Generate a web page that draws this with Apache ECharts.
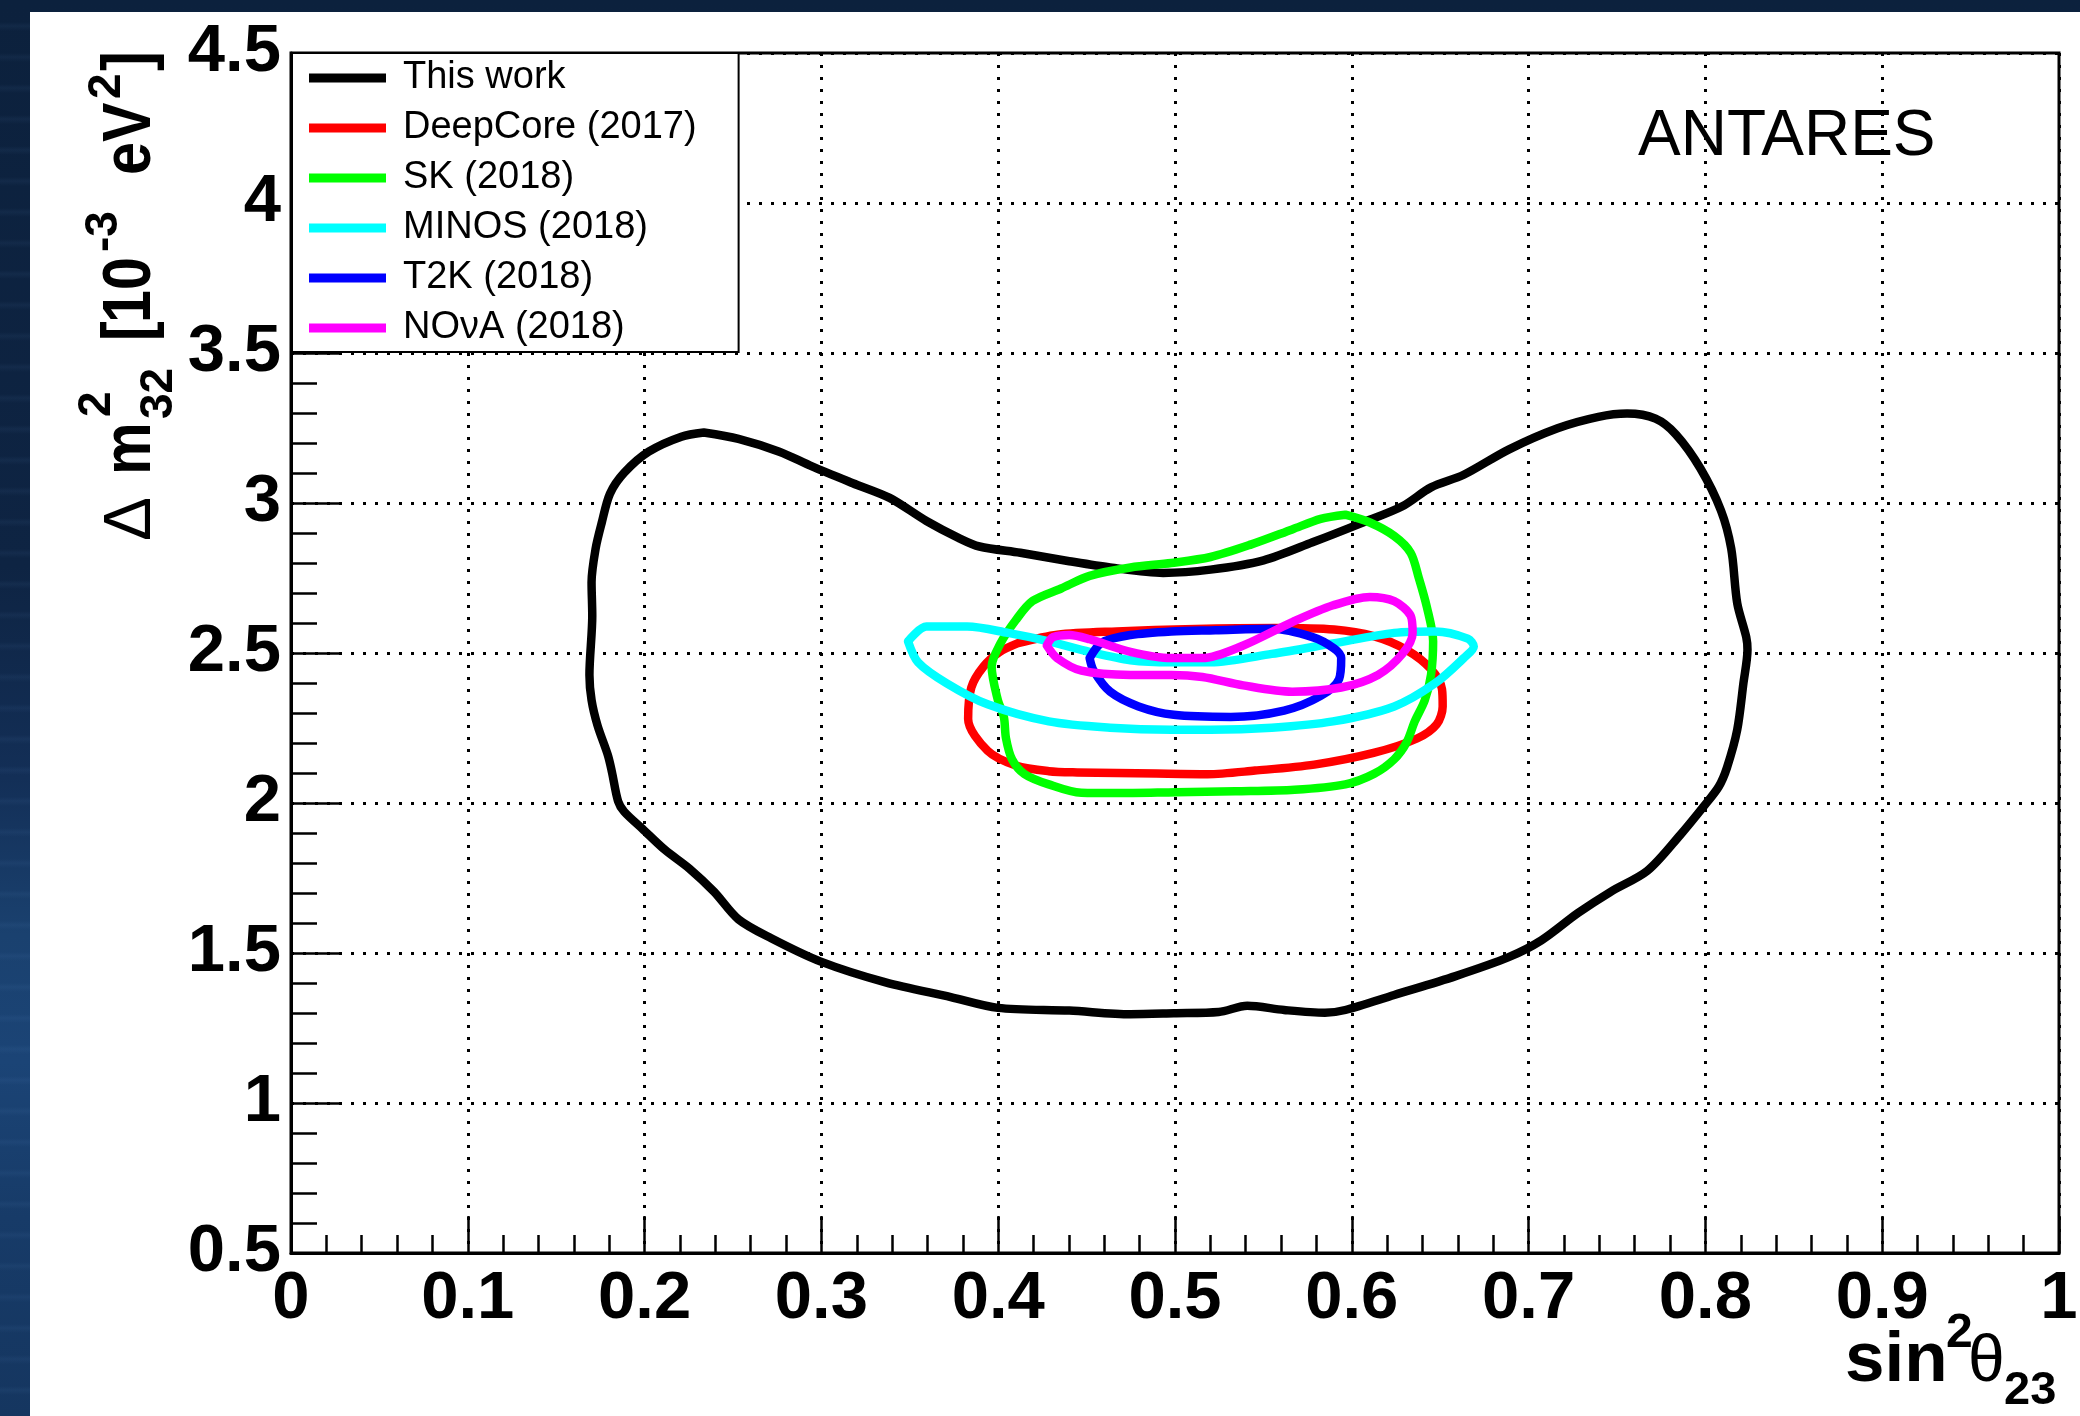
<!DOCTYPE html>
<html>
<head>
<meta charset="utf-8">
<script src="https://cdn.jsdelivr.net/npm/echarts@6/dist/echarts.min.js"></script>
<style>
  html, body { margin: 0; padding: 0; width: 2080px; height: 1416px; overflow: hidden; }
  body {
    background:
      repeating-linear-gradient(to bottom, rgba(255,255,255,0.00) 0px, rgba(255,255,255,0.00) 22px, rgba(120,170,230,0.06) 26px, rgba(255,255,255,0.00) 31px),
      linear-gradient(to bottom, #0c213d 0%, #0e2443 40%, #132f57 55%, #1a416f 66%, #1b4476 75%, #173b68 86%, #153660 100%);
  }
  #panel { position: absolute; left: 30px; top: 12px; right: 0; bottom: 0; background: #ffffff; }
  #chart { position: absolute; left: 0; top: 0; width: 2080px; height: 1416px; }
</style>
</head>
<body>
<div id="panel"></div>
<div id="chart"></div>
<script>
// 90% CL contours in the (sin^2 theta23, Delta m^2_32) plane
const seriesNames = ['This work', 'DeepCore (2017)', 'SK (2018)', 'MINOS (2018)', 'T2K (2018)', 'NO\u03bdA (2018)'];
const seriesColors = ['#000000', '#ff0000', '#00ff00', '#00ffff', '#0000ff', '#ff00ff'];

const xTickLabels = ['0', '0.1', '0.2', '0.3', '0.4', '0.5', '0.6', '0.7', '0.8', '0.9', '1'];
const yTickLabels = ['0.5', '1', '1.5', '2', '2.5', '3', '3.5', '4', '4.5'];

const thisWork = [
  [0.2335,3.235],[0.2531,3.214],[0.2762,3.171],[0.2947,3.122],[0.3178,3.066],[0.3386,3.017],
  [0.3594,2.940],[0.3778,2.883],[0.3894,2.855],[0.4125,2.834],[0.4402,2.806],[0.4633,2.785],
  [0.4933,2.767],[0.5201,2.778],[0.5501,2.809],[0.5778,2.869],[0.6055,2.933],[0.6286,2.989],
  [0.6448,3.052],[0.6633,3.094],[0.6887,3.178],[0.7164,3.249],[0.7395,3.287],[0.7557,3.298],
  [0.7718,3.281],[0.7834,3.228],[0.7972,3.115],[0.8088,2.975],[0.8146,2.848],[0.8180,2.666],
  [0.8231,2.553],[0.8238,2.511],[0.8215,2.399],[0.8180,2.244],[0.8122,2.118],[0.8076,2.055],
  [0.7995,1.992],[0.7857,1.893],[0.7672,1.774],[0.7464,1.704],[0.7279,1.633],[0.7072,1.542],
  [0.6887,1.486],[0.6587,1.423],[0.6240,1.360],[0.5963,1.310],[0.5848,1.301],[0.5617,1.310],
  [0.5409,1.324],[0.5247,1.303],[0.4993,1.299],[0.4748,1.296],[0.4402,1.308],[0.3998,1.317],
  [0.3732,1.353],[0.3363,1.402],[0.2993,1.472],[0.2716,1.549],[0.2531,1.612],[0.2393,1.704],
  [0.2254,1.781],[0.2115,1.844],[0.1988,1.914],[0.1885,1.971],[0.1850,2.006],[0.1815,2.104],
  [0.1792,2.160],[0.1734,2.258],[0.1700,2.343],[0.1688,2.427],[0.1704,2.624],[0.1700,2.736],
  [0.1723,2.848],[0.1757,2.933],[0.1804,3.031],[0.1885,3.101],[0.2023,3.171],[0.2208,3.221],
  [0.2335,3.235]
];

const deepCore2017 = [
  [0.4112,2.533],[0.4335,2.561],[0.4670,2.572],[0.5117,2.580],[0.5564,2.583],[0.5900,2.578],
  [0.6123,2.556],[0.6310,2.510],[0.6450,2.445],[0.6510,2.380],[0.6514,2.322],[0.6480,2.262],
  [0.6369,2.215],[0.6123,2.167],[0.5788,2.128],[0.5453,2.108],[0.5184,2.096],[0.4894,2.098],
  [0.4447,2.102],[0.4286,2.106],[0.4100,2.125],[0.3940,2.174],[0.3830,2.280],[0.3848,2.385],
  [0.3917,2.455],[0.4010,2.504],[0.4112,2.533]
];

const sk2018 = [
  [0.5963,2.961],[0.6102,2.935],[0.6240,2.890],[0.6333,2.834],[0.6379,2.750],[0.6425,2.652],
  [0.6460,2.539],[0.6448,2.427],[0.6413,2.343],[0.6356,2.272],[0.6310,2.202],[0.6240,2.146],
  [0.6125,2.097],[0.5963,2.062],[0.5676,2.044],[0.5341,2.039],[0.5006,2.036],[0.4670,2.033],
  [0.4470,2.034],[0.4286,2.062],[0.4148,2.097],[0.4078,2.146],[0.4044,2.216],[0.4032,2.287],
  [0.3998,2.343],[0.3963,2.455],[0.4011,2.530],[0.4100,2.610],[0.4194,2.673],[0.4356,2.715],
  [0.4517,2.757],[0.4748,2.785],[0.4979,2.800],[0.5201,2.820],[0.5432,2.862],[0.5663,2.912],
  [0.5824,2.947],[0.5963,2.961]
];

const minos2018 = [
  [0.3490,2.539],[0.3594,2.588],[0.3824,2.588],[0.4055,2.567],[0.4286,2.539],[0.4517,2.504],
  [0.4748,2.476],[0.4979,2.469],[0.5201,2.469],[0.5547,2.497],[0.5894,2.532],[0.6240,2.567],
  [0.6471,2.572],[0.6656,2.548],[0.6690,2.522],[0.6633,2.483],[0.6471,2.399],[0.6240,2.322],
  [0.5894,2.272],[0.5547,2.251],[0.5201,2.244],[0.4979,2.244],[0.4633,2.251],[0.4286,2.272],
  [0.3940,2.329],[0.3709,2.399],[0.3547,2.469],[0.3490,2.539]
];

const t2k2018 = [
  [0.4517,2.483],[0.4587,2.535],[0.4748,2.560],[0.4979,2.572],[0.5229,2.576],[0.5547,2.581],
  [0.5778,2.553],[0.5900,2.515],[0.5940,2.483],[0.5928,2.413],[0.5824,2.357],[0.5617,2.308],
  [0.5316,2.287],[0.4993,2.294],[0.4794,2.322],[0.4633,2.371],[0.4540,2.441],[0.4517,2.483]
];

const nova2018 = [
  [0.4275,2.525],[0.4310,2.553],[0.4402,2.560],[0.4517,2.546],[0.4748,2.504],[0.4979,2.483],
  [0.5155,2.483],[0.5386,2.525],[0.5663,2.603],[0.5894,2.659],[0.6102,2.687],[0.6240,2.673],
  [0.6333,2.624],[0.6344,2.567],[0.6286,2.497],[0.6148,2.427],[0.5940,2.385],[0.5663,2.371],
  [0.5386,2.392],[0.5155,2.420],[0.4979,2.427],[0.4748,2.427],[0.4471,2.441],[0.4333,2.483],
  [0.4275,2.525]
];

const contourData = [thisWork, deepCore2017, sk2018, minos2018, t2k2018, nova2018];

const FONT = "'Liberation Sans', Arial, Helvetica, sans-serif";

const chart = echarts.init(document.getElementById('chart'), null, { renderer: 'canvas' });

const series = seriesNames.map((name, i) => ({
  name: name,
  type: 'line',
  data: contourData[i],
  smooth: 0.3,
  showSymbol: false,
  symbol: 'none',
  clip: true,
  itemStyle: { color: seriesColors[i] },
  lineStyle: { color: seriesColors[i], width: 8.5, join: 'round', cap: 'round' },
  z: 3 + i
}));

// Rotated y-axis title: pieces laid out along the text direction
const yTitleParts = [
  { t: '\u0394', x: 3, b: 0, fs: 66, w: 'normal', sx: 1 },
  { t: 'm', x: 69, b: 0, fs: 68, w: 'bold', sx: 0.87 },
  { t: '2', x: 127, b: -42, fs: 46, w: 'bold', sx: 1 },
  { t: '32', x: 125, b: 20, fs: 46, w: 'bold', sx: 1 },
  { t: '[', x: 203, b: 0, fs: 68, w: 'bold', sx: 0.87 },
  { t: '10', x: 221, b: 0, fs: 68, w: 'bold', sx: 0.87 },
  { t: '-3', x: 292, b: -35, fs: 46, w: 'bold', sx: 1 },
  { t: 'eV', x: 369, b: 0, fs: 68, w: 'bold', sx: 0.87 },
  { t: '2', x: 445, b: -32, fs: 46, w: 'bold', sx: 1 },
  { t: ']', x: 473, b: 0, fs: 68, w: 'bold', sx: 0.87 }
];

function textPiece(p) {
  return {
    type: 'text',
    x: p.x,
    y: p.b - 0.3465 * p.fs,
    scaleX: p.sx,
    style: {
      text: p.t,
      fill: '#000',
      font: p.w + ' ' + p.fs + 'px ' + FONT,
      align: 'left',
      verticalAlign: 'middle'
    }
  };
}

// x-axis title sin^2(theta_23), right-aligned at the end of the axis
const xTitleParts = [
  { t: 'sin', x: 1845, b: 1386, fs: 71, w: 'bold' },
  { t: '2', x: 1946, b: 1350, fs: 48, w: 'bold' },
  { t: '\u03b8', x: 1968, b: 1386, fs: 66, w: 'normal' },
  { t: '23', x: 2004, b: 1407, fs: 47, w: 'bold' }
];

const option = {
  animation: false,
  backgroundColor: 'transparent',
  grid: {
    left: 291, top: 53, width: 1768, height: 1200,
    show: true, borderColor: '#000', borderWidth: 3, backgroundColor: 'transparent',
    containLabel: false, outerBoundsMode: 'none'
  },
  legend: {
    orient: 'vertical',
    left: 292, top: 53,
    backgroundColor: '#ffffff',
    borderColor: '#000', borderWidth: 2, borderRadius: 0,
    padding: [6, 42, 5, 17],
    itemGap: 12,
    itemWidth: 77, itemHeight: 9,
    icon: 'rect',
    selectedMode: false,
    textStyle: { fontFamily: FONT, fontSize: 38, color: '#000', padding: [0, 0, 0, 12], lineHeight: 38 },
    data: seriesNames,
    z: 20
  },
  xAxis: {
    type: 'value', min: 0, max: 1, interval: 0.1,
    axisLine: { show: true, onZero: false, lineStyle: { color: '#000', width: 3 } },
    axisTick: { show: true, inside: true, length: 37, lineStyle: { color: '#000', width: 2.5 } },
    minorTick: { show: true, splitNumber: 5, length: 18, lineStyle: { color: '#000', width: 2.5 } },
    splitLine: { show: true, lineStyle: { color: '#000', width: 3, type: [3, 9] } },
    minorSplitLine: { show: false },
    axisLabel: {
      show: true, margin: 13, color: '#000', fontFamily: FONT, fontSize: 67, fontWeight: 'bold',
      showMinLabel: true, showMaxLabel: true, hideOverlap: false,
      formatter: v => xTickLabels[Math.round(v * 10)]
    }
  },
  yAxis: {
    type: 'value', min: 0.5, max: 4.5, interval: 0.5,
    axisLine: { show: true, onZero: false, lineStyle: { color: '#000', width: 3 } },
    axisTick: { show: true, inside: true, length: 50, lineStyle: { color: '#000', width: 2.5 } },
    minorTick: { show: true, splitNumber: 5, length: 26, lineStyle: { color: '#000', width: 2.5 } },
    splitLine: { show: true, lineStyle: { color: '#000', width: 3, type: [3, 9] } },
    minorSplitLine: { show: false },
    axisLabel: {
      show: true, margin: 10, color: '#000', fontFamily: FONT, fontSize: 67, fontWeight: 'bold',
      showMinLabel: true, showMaxLabel: true, hideOverlap: false,
      formatter: v => yTickLabels[Math.round((v - 0.5) * 2)]
    }
  },
  graphic: [
    {
      type: 'text', x: 1638, y: 137, z: 30,
      style: { text: 'ANTARES', fill: '#000', font: 'normal 64px ' + FONT, align: 'left', verticalAlign: 'middle' }
    },
    {
      type: 'group', x: 155, y: 544, rotation: Math.PI / 2, z: 30,
      children: yTitleParts.map(textPiece)
    },
    ...xTitleParts.map(p => ({
      type: 'text', x: p.x, y: p.b - 0.3465 * p.fs, z: 30,
      style: { text: p.t, fill: '#000', font: p.w + ' ' + p.fs + 'px ' + FONT, align: 'left', verticalAlign: 'middle' }
    }))
  ],
  series: series
};

chart.setOption(option);
</script>
</body>
</html>
